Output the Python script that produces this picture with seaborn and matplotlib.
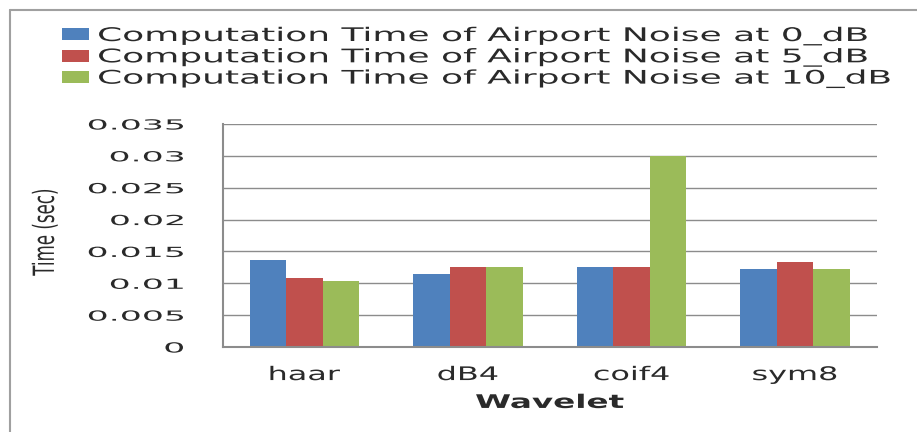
import numpy as np
import pandas as pd
import matplotlib
matplotlib.use('Agg')
import matplotlib.pyplot as plt
import seaborn as sns
from matplotlib.patheffects import AbstractPathEffect
from matplotlib.transforms import Affine2D
from matplotlib.ticker import FuncFormatter
from matplotlib.lines import Line2D

wavelets = ['haar', 'dB4', 'coif4', 'sym8']
series = ['Computation Time of Airport Noise at 0_dB',
          'Computation Time of Airport Noise at 5_dB',
          'Computation Time of Airport Noise at 10_dB']
time_0db = [0.0136, 0.0115, 0.0125, 0.0122]
time_5db = [0.0108, 0.0125, 0.0125, 0.0134]
time_10db = [0.0104, 0.0125, 0.0300, 0.0122]
colors = ['#4F81BD', '#C0504D', '#9BBB59']

rows = []
for name, vals in zip(series, [time_0db, time_5db, time_10db]):
    for w, v in zip(wavelets, vals):
        rows.append({'Wavelet': w, 'noise': name, 'Time (sec)': v})
df = pd.DataFrame(rows)


# the original picture is stretched sideways, text included
class Widen(AbstractPathEffect):
    def __init__(self, sx, anchor='center'):
        super().__init__()
        self.sx = sx
        self.anchor = anchor

    def draw_path(self, renderer, gc, tpath, affine, rgbFace=None):
        ext = tpath.get_extents(affine)
        if self.anchor == 'left':
            x0 = ext.x0
        elif self.anchor == 'right':
            x0 = ext.x1
        else:
            x0 = (ext.x0 + ext.x1) / 2
        affine = affine + Affine2D().translate(-x0, 0).scale(self.sx, 1).translate(x0, 0)
        renderer.draw_path(gc, tpath, affine, rgbFace)


sns.set_style('white')
plt.rcParams['font.family'] = ['DejaVu Sans']

W, H = 917, 432
fig = plt.figure(figsize=(W / 100, H / 100), dpi=100)
ax_l, ax_r, ax_b, ax_t = 222.7, 876.7, 347, 124
ax = fig.add_axes([ax_l / W, 1 - ax_b / H, (ax_r - ax_l) / W, (ax_b - ax_t) / H])

sns.barplot(data=df, x='Wavelet', y='Time (sec)', hue='noise', order=wavelets,
            hue_order=series, palette=colors, saturation=1, width=0.67, gap=0,
            errorbar=None, linewidth=0, ax=ax)

grid_c = '#8c8c8c'
text_c = '#2a2a2a'
ax.set_ylim(0, 0.035)
ax.set_xlim(-0.5, 3.5)
ax.set_yticks(np.arange(0, 0.0351, 0.005))
ax.yaxis.set_major_formatter(FuncFormatter(lambda v, p: f'{v:g}'))
ax.set_xticks([-0.5, 0.5, 1.5, 2.5, 3.5], minor=True)
ax.yaxis.grid(True, color=grid_c, lw=1)
ax.set_axisbelow(True)
for s in ['top', 'right']:
    ax.spines[s].set_visible(False)
for s in ['left', 'bottom']:
    ax.spines[s].set_color(grid_c)
    ax.spines[s].set_linewidth(1.5)

ax.tick_params(axis='y', which='major', length=10, width=1, color=grid_c,
               pad=18, labelsize=10, labelcolor=text_c)
ax.tick_params(axis='x', which='major', length=0, pad=13, labelsize=13.5,
               labelcolor=text_c)
ax.tick_params(axis='x', which='minor', length=4.5, width=1.5, color=grid_c,
               direction='out')

for t in ax.yaxis.get_major_ticks():
    t.label1.set_path_effects([Widen(2.5, 'right')])
for t in ax.xaxis.get_major_ticks():
    t.label1.set_path_effects([Widen(1.7)])

ax.set_xlabel('Wavelet', fontsize=13.5, fontweight='bold', color=text_c)
ax.xaxis.set_label_coords(0.5, -0.206)
ax.xaxis.label.set_path_effects([Widen(1.74)])
ax.set_ylabel('Time (sec)', fontsize=12, color=text_c, va='center')
ax.yaxis.set_label_coords((45 - ax_l) / (ax_r - ax_l), 0.515)
ax.yaxis.label.set_path_effects([Widen(1.75)])

handles, labels = ax.get_legend_handles_labels()
ax.get_legend().remove()
leg = fig.legend(handles, labels, loc='upper left', bbox_to_anchor=(62 / W, 1 - 26 / H),
                 frameon=False, fontsize=13.5, borderpad=0, borderaxespad=0,
                 handlelength=1.44, handleheight=0.59, handletextpad=0.48,
                 labelspacing=0.07)
for t in leg.get_texts():
    t.set_path_effects([Widen(1.92, 'left')])
    t.set_color(text_c)

# outer frame of the chart area, cut off at right and bottom
border_c = '#a0a0a0'
fig.add_artist(Line2D([10 / W, 10 / W], [0, 1 - 10 / H], transform=fig.transFigure,
                      color=border_c, lw=1.5))
fig.add_artist(Line2D([10 / W, 1], [1 - 10 / H, 1 - 10 / H], transform=fig.transFigure,
                      color=border_c, lw=1.5))

fig.savefig('out.png', dpi=100)
